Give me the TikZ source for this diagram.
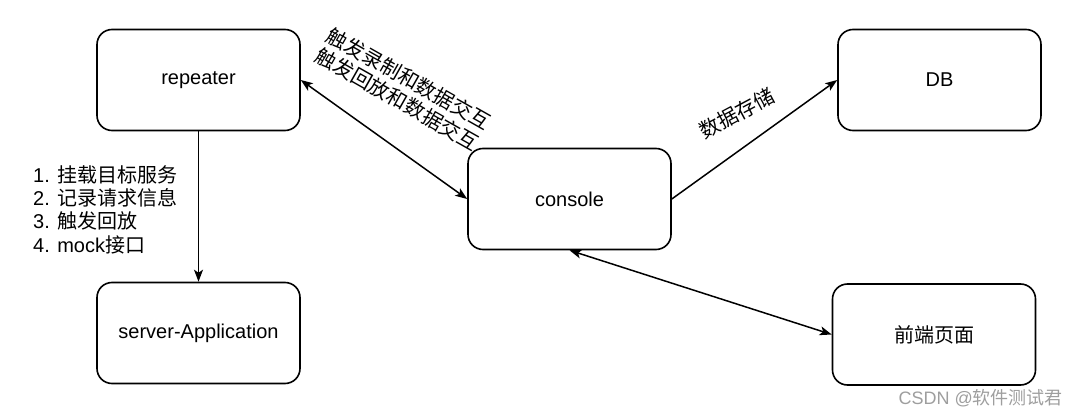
\documentclass[tikz,border=0pt]{standalone}
\usepackage{fontspec}
\setmainfont{Liberation Sans}
\newfontfamily\cjk{Noto Sans CJK SC}
\usetikzlibrary{arrows.meta}
\begin{document}
\begin{tikzpicture}[x=1pt,y=1pt,
  box/.style={draw,line width=1.6pt,rounded corners=15pt,minimum width=203pt,minimum height=101pt,inner sep=0pt,font=\fontsize{20}{23.3}\selectfont},
  conn/.style={line width=1.5pt},
  tip/.style={-{Stealth[length=12pt,width=9pt,inset=3pt]}},
  tips/.style={{Stealth[length=12pt,width=9pt,inset=3pt]}-{Stealth[length=12pt,width=9pt,inset=3pt]}},
  lbl/.style={font=\fontsize{20}{23.3}\selectfont,inner sep=0pt},
  clbl/.style={font=\cjk\fontsize{20.4}{23.3}\selectfont,inner sep=0pt}]
\useasboundingbox (0,0) rectangle (1080,416);
\node[box] (rep) at (198.5,336) {repeater};
\node[box] (srv) at (198.5,83) {server-Application};
\node[box] (con) at (569.5,217) {console};
\node[box] (db) at (939.5,336) {DB};
\node[box] (fe) at (934,81.5) {\cjk 前端页面};
\draw[conn,tip] (rep.south) -- (srv.north);
\draw[conn,tips] (rep.east) -- (con.west);
\draw[conn,tip] (con.east) -- (db.west);
\draw[conn,tips] (con.south) -- (fe.west);
\node[lbl,align=left,anchor=west] (list) at (33,206.5) {1. {\cjk 挂载目标服务}\\2. {\cjk 记录请求信息}\\3. {\cjk 触发回放}\\4. mock{\cjk 接口}};
\node[clbl,align=center,rotate=-29.5] (l1) at (403,327) {触发录制和数据交互\\触发回放和数据交互};
\node[clbl,rotate=28] (l2) at (736.5,302.5) {数据存储};
\node[font=\fontsize{18}{20}\selectfont,text=black!38,anchor=east,inner sep=0pt] (wm) at (1063,18) {CSDN @{\cjk 软件测试君}};
\end{tikzpicture}
\end{document}
